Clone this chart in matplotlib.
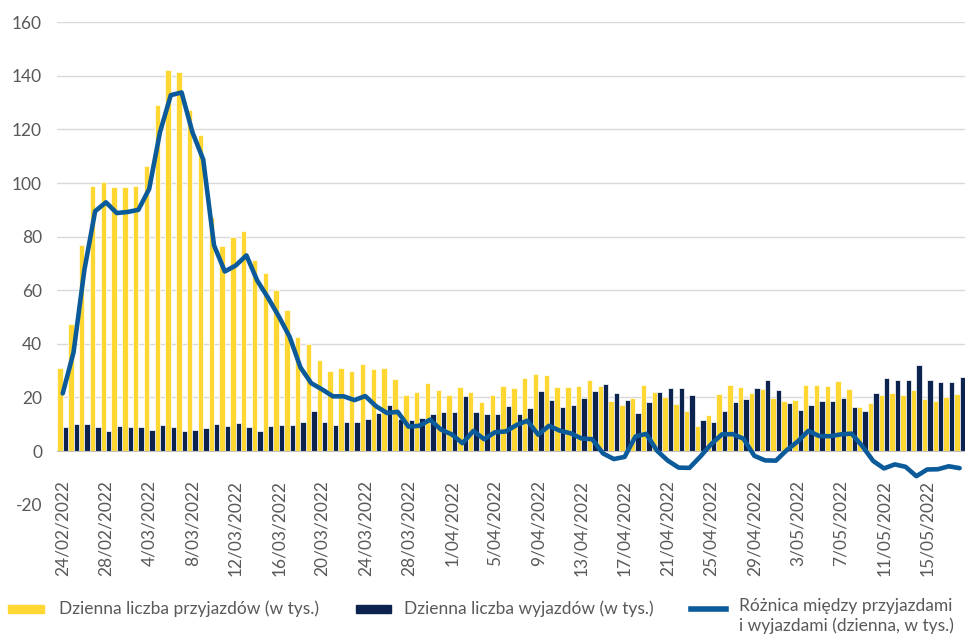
import numpy as np
import pandas as pd
import matplotlib
matplotlib.use('Agg')
import matplotlib.pyplot as plt
from matplotlib.patches import Rectangle
from matplotlib.lines import Line2D

plt.rcParams['font.family'] = ['Lato', 'DejaVu Sans']
plt.rcParams['axes.unicode_minus'] = False

# daily data, 24/02/2022 onwards (thousands)
dates = pd.date_range('2022-02-24', periods=84, freq='D')

arrivals = [31.1, 47.3, 76.9, 98.8, 100.4, 98.4, 98.4, 99.0, 106.4, 129.0,
            142.1, 141.5, 127.3, 117.8, 87.4, 76.4, 79.8, 82.1, 71.4, 66.6,
            59.9, 52.6, 42.5, 40.0, 33.8, 30.0, 31.0, 30.0, 32.3, 30.5,
            31.0, 26.9, 20.9, 22.2, 25.3, 22.8, 20.9, 23.7, 21.9, 18.4,
            20.9, 24.2, 23.4, 27.3, 28.8, 28.5, 23.9, 23.9, 24.4, 26.6,
            24.1, 18.8, 17.0, 19.8, 24.8, 21.9, 20.0, 17.5, 14.8, 9.5,
            13.5, 21.3, 24.5, 24.0, 21.8, 23.3, 19.8, 18.5, 19.1, 24.8,
            24.5, 24.3, 26.0, 23.3, 16.5, 17.9, 20.8, 21.6, 20.8, 22.8,
            19.5, 18.8, 20.0, 21.3]

departures = [9.0, 10.1, 10.1, 9.0, 7.6, 9.2, 9.0, 9.0, 7.9, 9.7,
              9.0, 7.4, 7.9, 8.6, 10.1, 9.2, 10.4, 9.0, 7.6, 9.2,
              9.6, 9.8, 11.0, 14.8, 10.8, 9.8, 10.8, 10.8, 11.9, 14.0,
              17.0, 11.9, 11.7, 12.5, 13.7, 14.5, 14.5, 20.5, 14.5, 13.7,
              13.7, 16.9, 13.7, 16.2, 22.5, 18.9, 16.3, 17.3, 19.8, 22.3,
              25.0, 21.6, 18.9, 14.1, 18.3, 22.0, 23.5, 23.5, 21.0, 11.6,
              11.0, 15.1, 18.3, 19.4, 23.5, 26.5, 22.9, 18.0, 15.4, 17.3,
              18.6, 18.6, 19.8, 16.6, 14.8, 21.5, 27.3, 26.6, 26.6, 32.0,
              26.4, 25.6, 25.6, 27.8]

difference = [21.5, 36.8, 67.5, 89.5, 92.8, 88.8, 89.2, 90.0, 97.8, 119.0,
              132.8, 133.8, 119.0, 108.8, 76.8, 67.0, 69.2, 73.0, 63.6, 57.2,
              50.2, 42.6, 31.2, 25.3, 23.0, 20.4, 20.4, 19.0, 20.5, 16.7,
              14.2, 14.6, 9.1, 9.4, 11.7, 8.0, 6.2, 2.9, 7.5, 4.4,
              7.0, 7.3, 9.7, 11.3, 6.1, 9.4, 7.6, 6.6, 4.7, 4.4,
              -0.9, -3.0, -2.2, 5.4, 6.4, 0.1, -3.6, -6.2, -6.3, -2.1,
              2.5, 6.2, 6.3, 4.6, -1.8, -3.5, -3.6, 0.3, 3.5, 7.5,
              5.6, 5.5, 6.2, 6.5, 1.8, -3.7, -6.5, -5.0, -5.9, -9.4,
              -6.9, -6.8, -5.7, -6.4]

labels = ['Dzienna liczba przyjazdów (w tys.)',
          'Dzienna liczba wyjazdów (w tys.)',
          'Różnica między przyjazdami\ni wyjazdami (dzienna, w tys.)']

YELLOW = '#FFD733'
NAVY = '#0C2350'
BLUE = '#0B5A9A'
GRAY = '#595959'

fig = plt.figure(figsize=(9.65, 6.38), dpi=100)
ax = fig.add_axes([0.0594, 0.2091, 0.9406, 0.756])

# move the category axis to zero first (this resets the ticks)
for s in ['left', 'right', 'top']:
    ax.spines[s].set_visible(False)
ax.spines['bottom'].set_position(('data', 0))
ax.spines['bottom'].set_color('#BFBFBF')
ax.spines['bottom'].set_zorder(3)

x = np.arange(len(dates))
ax.bar(x - 0.25, arrivals, width=0.5, color=YELLOW, edgecolor='white',
       linewidth=0.5, zorder=2)
ax.bar(x + 0.25, departures, width=0.5, color=NAVY, edgecolor='white',
       linewidth=0.5, zorder=2)
ax.plot(x, difference, color=BLUE, lw=3.3, zorder=4, solid_capstyle='round')

for y in range(20, 161, 20):
    ax.axhline(y, color='#D9D9D9', lw=1, zorder=0)

ax.set_xlim(-0.5, 83.5)
ax.set_ylim(-20, 160)
ax.set_yticks(range(-20, 161, 20))

ax.set_xticks(x[::4])
ax.set_xticklabels([f'{d.day}/{d.month:02d}/{d.year}' for d in dates[::4]],
                   rotation=90, ha='center', va='top')

ax.tick_params(axis='y', length=0, pad=11, labelsize=12.5, labelcolor=GRAY)
ax.tick_params(axis='x', length=0, pad=21, labelsize=12.5, labelcolor=GRAY)

# legend drawn by hand along the bottom
W, H = 965, 638
def fx(px):
    return px / W
def fy(py):
    return 1 - py / H

fig.patches.append(Rectangle((fx(8), fy(613)), fx(36), 8 / H, color=YELLOW,
                             transform=fig.transFigure))
fig.patches.append(Rectangle((fx(356), fy(613)), fx(35), 8 / H, color=NAVY,
                             transform=fig.transFigure))
fig.lines.append(Line2D([fx(691), fx(726)], [fy(609), fy(609)], color=BLUE,
                        lw=4, transform=fig.transFigure))

fig.text(fx(59), fy(609), labels[0], fontsize=12.5, color=GRAY, va='center')
fig.text(fx(404), fy(609), labels[1], fontsize=12.5, color=GRAY, va='center')
fig.text(fx(739), fy(598), labels[2], fontsize=12.5, color=GRAY, va='top',
         linespacing=1.25)

fig.savefig('out.png', dpi=100)
